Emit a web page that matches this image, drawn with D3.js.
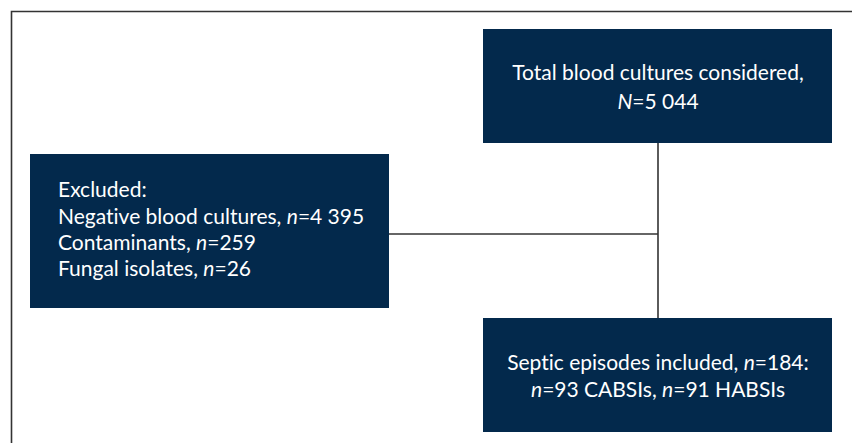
<!DOCTYPE html>
<html><head><meta charset="utf-8">
<script src="https://cdn.jsdelivr.net/npm/d3@7"></script>
<style>html,body{margin:0;padding:0;background:#fff;}svg{display:block;}text{font-variant-ligatures:none;}</style>
</head><body>
<svg id="chart" width="852" height="443"></svg>
<script>
// Data
const totalLabel = "Total blood cultures considered,";
const totalN = 5044;
const excludedCategories = ["Negative blood cultures", "Contaminants", "Fungal isolates"];
const excludedValues = [4395, 259, 26];
const includedN = 184;
const includedGroups = ["CABSIs", "HABSIs"];
const includedValues = [93, 91];

const fmt = d3.formatLocale({decimal: ".", thousands: " ", grouping: [3], currency: ["", ""]}).format(",d");

const svg = d3.select("#chart");
const navy = "#03294c";
const lineCol = "#333333";
const font = "Lato, 'Open Sans', sans-serif";
const fs = 21;

// frame
svg.append("path").attr("d", "M11.5,443 V11.5 H852").attr("fill", "none")
  .attr("stroke", lineCol).attr("stroke-width", 1.6);

const boxes = {
  top: {x: 483, y: 29, w: 349, h: 114},
  left: {x: 30, y: 154, w: 359, h: 154},
  bottom: {x: 483, y: 318, w: 349, h: 114}
};
const cx = boxes.top.x + boxes.top.w / 2 + 0.5;
const hy = 234;

// connectors
svg.append("line").attr("x1", cx).attr("x2", cx).attr("y1", boxes.top.y + boxes.top.h).attr("y2", boxes.bottom.y)
  .attr("stroke", lineCol).attr("stroke-width", 1.6);
svg.append("line").attr("x1", boxes.left.x + boxes.left.w).attr("x2", cx).attr("y1", hy).attr("y2", hy)
  .attr("stroke", lineCol).attr("stroke-width", 1.6);

Object.values(boxes).forEach(b => {
  svg.append("rect").attr("x", b.x).attr("y", b.y).attr("width", b.w).attr("height", b.h).attr("fill", navy);
});

function addLine(g, x, y, parts, anchor) {
  const t = g.append("text").attr("x", x).attr("y", y).attr("text-anchor", anchor)
    .attr("fill", "#fff").attr("font-family", font).attr("font-size", fs);
  parts.forEach(p => {
    t.append("tspan").text(p[0]).attr("font-style", p[1] ? "italic" : "normal");
  });
}

// top box
addLine(svg, cx, 80, [[totalLabel, false]], "middle");
addLine(svg, cx, 109, [["N", true], ["=" + fmt(totalN), false]], "middle");

// left box
addLine(svg, 58, 197, [["Excluded:", false]], "start");
excludedCategories.forEach((c, i) => {
  addLine(svg, 58, 224 + i * 26, [[c + ", ", false], ["n", true], ["=" + fmt(excludedValues[i]), false]], "start");
});

// bottom box
addLine(svg, cx, 370, [["Septic episodes included, ", false], ["n", true], ["=" + fmt(includedN) + ":", false]], "middle");
const l2 = [];
includedGroups.forEach((g, i) => {
  l2.push(["n", true]);
  l2.push(["=" + fmt(includedValues[i]) + " " + g + (i < includedGroups.length - 1 ? ", " : ""), false]);
});
addLine(svg, cx, 397, l2, "middle");
</script>
</body></html>
